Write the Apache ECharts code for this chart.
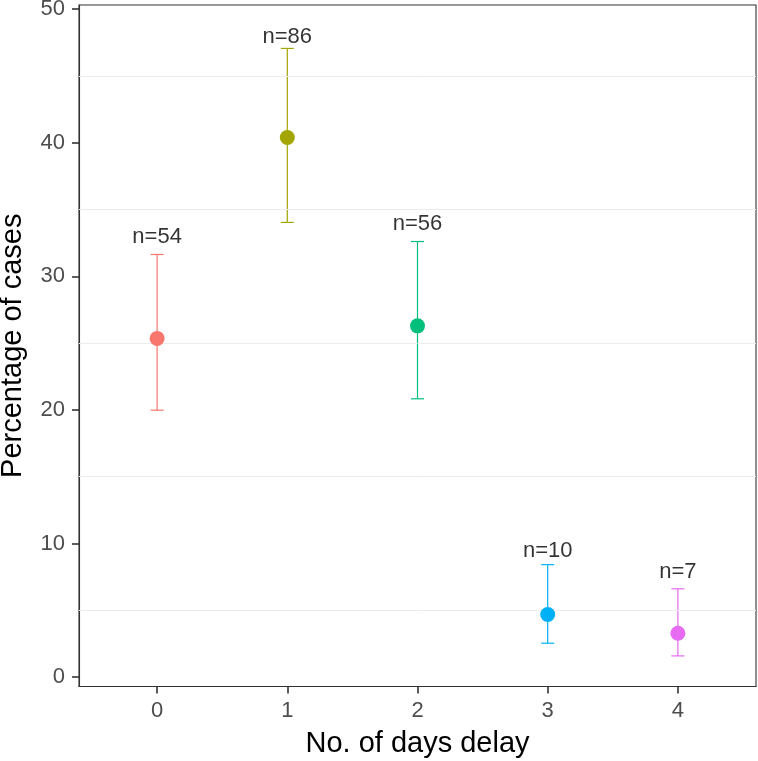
<!DOCTYPE html>
<html>
<head>
<meta charset="utf-8">
<script src="https://cdn.jsdelivr.net/npm/echarts@6/dist/echarts.min.js"></script>
<style>
html,body{margin:0;padding:0;background:#fff;}
#chart{width:758px;height:761px;}
</style>
</head>
<body>
<div id="chart"></div>
<script>
// Data
var days = [0, 1, 2, 3, 4];
var pct = [25.35, 40.38, 26.29, 4.69, 3.29];
var lower = [19.98, 34.03, 20.83, 2.54, 1.59];
var upper = [31.63, 47.05, 32.60, 8.42, 6.61];
var nLabels = ['n=54', 'n=86', 'n=56', 'n=10', 'n=7'];
var labelY = [32.96, 47.9, 33.9, 9.46, 7.9];
var yTicks = [0, 10, 20, 30, 40, 50];
var gridY = [5, 15, 25, 35, 45];

var colors = ['#F8766D', '#A3A500', '#00BF7D', '#00B0F6', '#E76BF3'];
var FONT = '"Liberation Sans", Arial, Helvetica, sans-serif';

var chart = echarts.init(document.getElementById('chart'), null, {renderer: 'canvas'});

var errData = days.map(function (d, i) { return [d, lower[i], upper[i]]; });
var ptData = days.map(function (d, i) { return [d, pct[i]]; });
var lblData = days.map(function (d, i) { return [d, labelY[i]]; });

var option = {
  animation: false,
  backgroundColor: '#ffffff',
  grid: {
    left: 79, right: 2, top: 5, bottom: 74.5,
    containLabel: false, outerBoundsMode: 'none',
    show: true, borderColor: '#333333', borderWidth: 1.1, backgroundColor: 'transparent'
  },
  xAxis: {
    type: 'value', min: -0.6, max: 4.6, position: 'bottom',
    name: 'No. of days delay', nameLocation: 'middle', nameGap: 43,
    nameTextStyle: {fontFamily: FONT, fontSize: 29, color: '#000'},
    axisLine: {show: true, onZero: false, lineStyle: {color: '#333', width: 1.1}},
    axisTick: {show: true, inside: false, length: 7, lineStyle: {color: '#333333', width: 1.6}, customValues: days},
    axisLabel: {show: true, fontFamily: FONT, fontSize: 22, color: '#4D4D4D', margin: 13, customValues: days},
    splitLine: {show: false}
  },
  yAxis: {
    type: 'value', min: -0.7, max: 50.3, position: 'left',
    name: 'Percentage of cases', nameLocation: 'middle', nameGap: 52,
    nameTextStyle: {fontFamily: FONT, fontSize: 29, color: '#000'},
    axisLine: {show: true, onZero: false, lineStyle: {color: '#333', width: 1.1}},
    axisTick: {show: true, inside: false, length: 7, lineStyle: {color: '#333333', width: 1.6}, customValues: yTicks},
    axisLabel: {show: true, fontFamily: FONT, fontSize: 22, color: '#4D4D4D', margin: 14, customValues: yTicks},
    splitLine: {show: false}
  },
  series: [
    {
      type: 'line', data: [], silent: true, z: 1,
      markLine: {
        silent: true, symbol: 'none', animation: false,
        label: {show: false},
        lineStyle: {color: '#EBEBEB', width: 1, type: 'solid'},
        data: gridY.map(function (v) { return {yAxis: v}; })
      }
    },
    {
      type: 'custom', data: errData, silent: true, z: 2,
      renderItem: function (params, api) {
        var x = api.value(0);
        var lo = api.coord([x, api.value(1)]);
        var hi = api.coord([x, api.value(2)]);
        var hw = 6.5;
        var st = {stroke: colors[params.dataIndex], lineWidth: 1.2};
        return {
          type: 'group',
          children: [
            {type: 'line', shape: {x1: lo[0], y1: lo[1], x2: hi[0], y2: hi[1]}, style: st},
            {type: 'line', shape: {x1: lo[0] - hw, y1: lo[1], x2: lo[0] + hw, y2: lo[1]}, style: st},
            {type: 'line', shape: {x1: hi[0] - hw, y1: hi[1], x2: hi[0] + hw, y2: hi[1]}, style: st}
          ]
        };
      }
    },
    {
      type: 'scatter', data: ptData, symbolSize: 15, silent: true, z: 10,
      itemStyle: {color: function (p) { return colors[p.dataIndex]; }, opacity: 1}
    },
    {
      type: 'scatter', data: lblData, symbolSize: 0, silent: true, z: 11,
      label: {
        show: true, position: 'inside',
        formatter: function (p) { return nLabels[p.dataIndex]; },
        fontFamily: FONT, fontSize: 22, color: '#000000', textBorderWidth: 0
      }
    }
  ]
};
chart.setOption(option);
</script>
</body>
</html>
